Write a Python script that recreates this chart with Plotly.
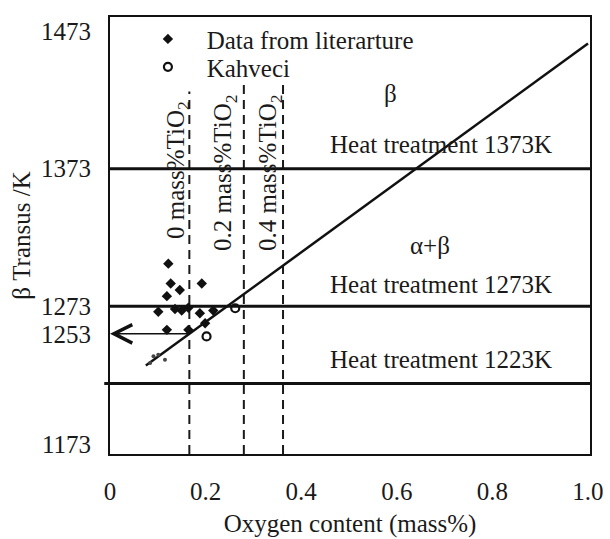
import plotly.graph_objects as go

# ---- data ----
lit_x = [0.122, 0.127, 0.146, 0.119, 0.192, 0.101, 0.136, 0.150, 0.164, 0.188, 0.216,
         0.119, 0.164, 0.199]
lit_t = [1304.0, 1289.6, 1284.8, 1280.4, 1289.6, 1269.0, 1271.0, 1270.0, 1272.0, 1268.0, 1270.0,
         1255.9, 1255.9, 1260.7]
small_x = [0.084, 0.091, 0.101, 0.115]
small_t = [1231.8, 1236.7, 1237.8, 1234.2]
kah_x = [0.202, 0.262]
kah_t = [1251.1, 1271.6]

fit_x = [0.075, 1.0]
fit_t = [1230.0, 1464.0]

tio2_x = [0.166, 0.280, 0.362]
tio2_top = [1429.0, 1434.0, 1434.0]
tio2_labels = ["0 mass%TiO<sub>2</sub>", "0.2 mass%TiO<sub>2</sub>", "0.4 mass%TiO<sub>2</sub>"]
tio2_label_x = [0.140, 0.241, 0.335]
tio2_label_t = [1372.0, 1370.0, 1370.0]

# heat-treatment lines as drawn in the picture (lowest one sits slightly below 1223)
heat_t = [1373, 1273, 1217]
heat_labels = ["Heat treatment 1373K", "Heat treatment 1273K", "Heat treatment 1223K"]
heat_label_t = [1390.5, 1289.0, 1234.5]

arrow_t = 1253
arrow_from_x = 0.166

x_ticks = [0, 0.2, 0.4, 0.6, 0.8, 1.0]
x_ticktext = ["0", "0.2", "0.4", "0.6", "0.8", "1.0"]
y_ticks = [1173, 1253, 1273, 1373, 1473]
y_ticktext = ["1173", "1253", "1273", "1373", "1473"]

X_RANGE = [0, 1.0042]
Y_RANGE = [1165.7, 1483.2]
FONT = "Liberation Serif, Times New Roman, serif"
INK = "#1a1a1a"
PAD = "\u00a0\u00a0\u00a0"

fig = go.Figure()

# dashed TiO2 lines
for xv, top in zip(tio2_x, tio2_top):
    fig.add_trace(go.Scatter(x=[xv, xv], y=[Y_RANGE[0], top], mode="lines",
                             line=dict(color=INK, width=2, dash="9px,6px"),
                             showlegend=False, hoverinfo="skip"))

# heat treatment lines
for i, t in enumerate(heat_t):
    fig.add_shape(type="line", xref="paper", yref="y",
                  x0=-0.012 if i == 2 else 0, x1=1, y0=t, y1=t,
                  line=dict(color="#111", width=3))

# fit line
fig.add_trace(go.Scatter(x=fit_x, y=fit_t, mode="lines",
                         line=dict(color="#111", width=2.5),
                         showlegend=False, hoverinfo="skip"))

# data points
fig.add_trace(go.Scatter(x=lit_x, y=lit_t, mode="markers", name=PAD + "Data from literarture",
                         legend="legend",
                         marker=dict(symbol="diamond", size=8, color="#111")))
fig.add_trace(go.Scatter(x=small_x, y=small_t, mode="markers", showlegend=False,
                         marker=dict(symbol="circle", size=4, color="#444")))
fig.add_trace(go.Scatter(x=kah_x, y=kah_t, mode="markers", name=PAD + "Kahveci",
                         legend="legend2",
                         marker=dict(symbol="circle-open", size=8, color="#111",
                                     line=dict(width=2.2))))

# arrow to 1253
fig.add_annotation(x=0, y=arrow_t, ax=arrow_from_x, ay=arrow_t, xref="x", yref="y",
                   axref="x", ayref="y", text="", showarrow=True, arrowhead=5,
                   arrowsize=2.4, arrowwidth=1.5, arrowcolor="#111")

# rotated TiO2 labels
for txt, xv, tv in zip(tio2_labels, tio2_label_x, tio2_label_t):
    fig.add_annotation(x=xv, y=tv, text=txt, textangle=-90, showarrow=False,
                       font=dict(family=FONT, size=25, color=INK))

# heat treatment labels
for txt, tv in zip(heat_labels, heat_label_t):
    fig.add_annotation(x=0.693, y=tv, text=txt, showarrow=False,
                       font=dict(family=FONT, size=25, color=INK))

fig.add_annotation(x=0.586, y=1427.5, text="β", showarrow=False,
                   font=dict(family=FONT, size=25, color=INK))
fig.add_annotation(x=0.669, y=1317.0, text="α+β", showarrow=False,
                   font=dict(family=FONT, size=25, color=INK))

leg_common = dict(xanchor="left", yanchor="top", bgcolor="rgba(0,0,0,0)",
                  font=dict(family=FONT, size=25, color=INK), itemwidth=30)

fig.update_layout(
    width=610, height=539,
    margin=dict(l=110, r=20, t=17, b=85, autoexpand=False),
    paper_bgcolor="white", plot_bgcolor="white",
    font=dict(family=FONT, size=25, color=INK),
    legend=dict(x=0.079, y=1.002, **leg_common),
    legend2=dict(x=0.079, y=0.938, **leg_common),
    xaxis=dict(range=X_RANGE, tickvals=x_ticks, ticktext=x_ticktext, automargin=False,
               showline=True, linecolor="#111", linewidth=2, mirror=True,
               showgrid=False, zeroline=False, ticks="", ticklabelstandoff=14,
               title=dict(text="Oxygen content (mass%)", standoff=10,
                          font=dict(family=FONT, size=25, color=INK))),
    yaxis=dict(range=Y_RANGE, tickvals=y_ticks, ticktext=y_ticktext, automargin=False,
               showline=True, linecolor="#111", linewidth=2, mirror=True,
               showgrid=False, zeroline=False, ticks="", ticklabelstandoff=12,
               title=dict(text="β Transus /K", standoff=3,
                          font=dict(family=FONT, size=25, color=INK))),
)

fig.write_html("out.html")
